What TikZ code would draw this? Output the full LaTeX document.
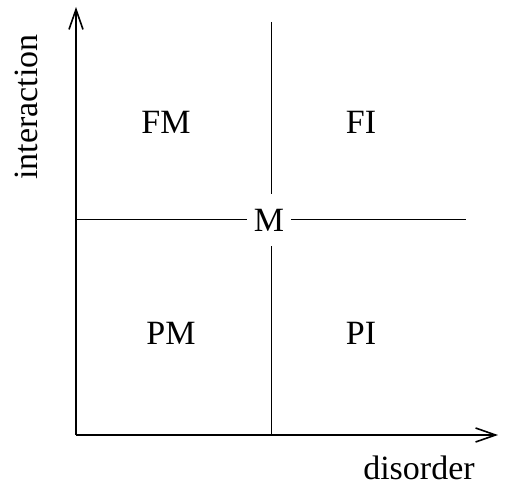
\documentclass[tikz,border=0pt]{standalone}
\usepackage{fontspec}
\setmainfont{Liberation Serif}
\usetikzlibrary{arrows.meta}
\tikzset{
	region/.style={font=\fontsize{34}{36}\selectfont},
	axislabel/.style={font=\fontsize{34}{36}\selectfont,inner sep=0pt},
	axisline/.style={line width=1.6pt,-{Straight Barb[length=20pt,width=14pt,line width=1.6pt]}},
	divider/.style={line width=1pt}
}
\begin{document}
\begin{tikzpicture}[x=1pt,y=-1pt]
		\useasboundingbox (0,0) rectangle (506,487);
		\coordinate (o) at (76,435);
		\coordinate (ytip) at (76,7);
		\coordinate (xtip) at (498,435);
		\coordinate (top) at (271,22);
		\coordinate (bot) at (271,435);
		\coordinate (left) at (76,219);
		\coordinate (right) at (466,219);
		\node[region,inner xsep=7pt,inner ysep=15pt] (m) at (269,220) {M};
		\draw[divider] (top) -- (top |- m.north);
		\draw[divider] (bot |- m.south) -- (bot);
		\draw[divider] (left) -- (m.west |- left);
		\draw[divider] (m.east |- right) -- (right);
		\draw[axisline] (o) -- (ytip);
		\draw[axisline] (o) -- (xtip);
		\node[region] (fm) at (166,122) {FM};
		\node[region] (fi) at (361,122) {FI};
		\node[region] (pm) at (171,333) {PM};
		\node[region] (pi) at (361,333) {PI};
		\node[axislabel,rotate=90] (ylab) at (26,107) {interaction};
		\node[axislabel] (xlab) at (419,468) {disorder};
	\end{tikzpicture}
\end{document}
